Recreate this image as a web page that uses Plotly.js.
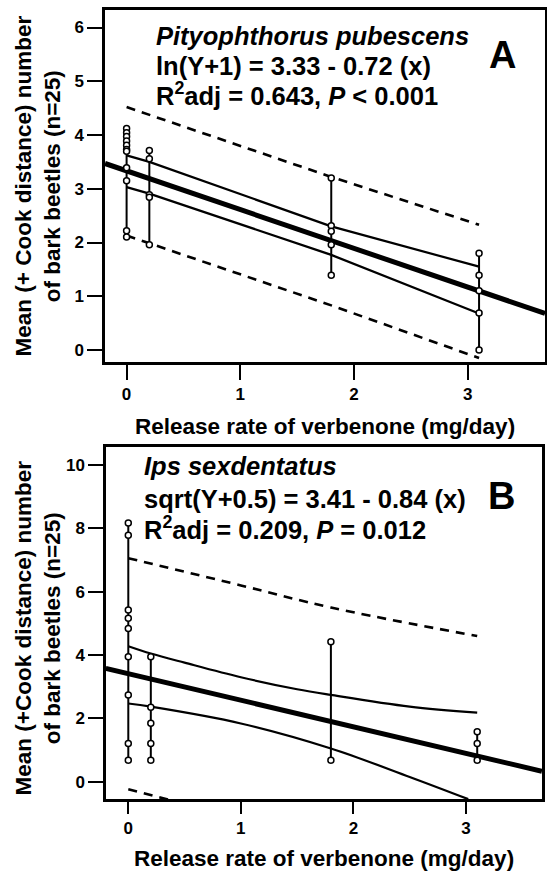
<!DOCTYPE html>
<html><head><meta charset="utf-8">
<script src="https://cdn.plot.ly/plotly-3.0.1.min.js"></script>
<style>body{margin:0;background:#fff}</style>
</head><body>
<div id="chart" style="width:547px;height:872px"></div>
<script>
// ---------------- data ----------------
const releaseRates = [0, 0.2, 1.8, 3.1];           // mg/day
const xTicks = [0, 1, 2, 3];
const yTicksA = [0, 1, 2, 3, 4, 5, 6];
const yTicksB = [0, 2, 4, 6, 8, 10];

// Panel A: Pityophthorus pubescens, observed values per release rate
const pityAt0   = [4.12, 4.04, 3.97, 3.89, 3.81, 3.73, 3.70, 3.39, 3.15, 2.22, 2.10];
const pityAt02  = [3.71, 3.56, 2.89, 2.84, 1.96];
const pityAt18  = [3.20, 2.31, 2.21, 1.96, 1.39];
const pityAt31  = [1.80, 1.39, 1.10, 0.69, 0.00];
// Panel A: fitted line, confidence (solid) and prediction (dashed) bands
const fitXA = [-0.19, 3.68];
const fitYA = [3.47, 0.68];
const bandXA = [0, 0.2, 1.8, 3.1];
const ciUpA = [3.62, 3.50, 2.30, 1.55];
const ciLoA = [3.03, 2.91, 1.77, 0.68];
const piXA = [0, 1.8, 3.1];
const piUpA = [4.52, 3.22, 2.33];
const piLoA = [2.13, 0.83, -0.15];

// Panel B: Ips sexdentatus, observed values per release rate
const ipsAt0  = [8.17, 7.78, 5.42, 5.16, 4.84, 3.95, 2.74, 1.21, 0.68];
const ipsAt02 = [3.95, 2.35, 1.85, 1.21, 0.68];
const ipsAt18 = [4.42, 0.68];
const ipsAt31 = [1.58, 1.21, 0.68];
// Panel B: fitted line, confidence (solid) and prediction (dashed) bands
const fitXB = [-0.2, 3.675];
const fitYB = [3.58, 0.33];
const ciUpXB = [0, 0.2, 0.5, 1.0, 1.5, 1.8, 2.5, 3.1];
const ciUpB  = [4.28, 4.05, 3.76, 3.30, 2.92, 2.74, 2.37, 2.18];
const ciLoXB = [0, 0.2, 1.0, 1.8, 2.5, 3.02];
const ciLoB  = [2.47, 2.37, 1.84, 1.05, 0.15, -0.55];
const piUpXB = [0, 1.0, 1.8, 3.1];
const piUpB  = [7.06, 6.20, 5.50, 4.60];
const piLoXB = [0, 0.37];
const piLoB  = [-0.24, -0.58];

// ---------------- build ----------------
const F = 'Arial, "Liberation Sans", Helvetica, sans-serif';
function stems(rates, groups) {
  const x = [], y = [];
  groups.forEach((g, i) => { x.push(rates[i], rates[i], null); y.push(Math.min(...g), Math.max(...g), null); });
  return {x, y};
}
function points(rates, groups) {
  const x = [], y = [];
  groups.forEach((g, i) => g.forEach(v => { x.push(rates[i]); y.push(v); }));
  return {x, y};
}
function panel(xa, ya, groups, fx, fy, cux, cu, clx, cl, pux, pu, plx, pl, shape) {
  const s = stems(releaseRates, groups), p = points(releaseRates, groups);
  const base = {xaxis: xa, yaxis: ya, hoverinfo: 'skip', showlegend: false};
  return [
    Object.assign({type: 'scatter', mode: 'lines', x: pux, y: pu, line: {color: 'black', width: 2.6, dash: '9px,7px', shape: shape}}, base),
    Object.assign({type: 'scatter', mode: 'lines', x: plx, y: pl, line: {color: 'black', width: 2.6, dash: '9px,7px'}}, base),
    Object.assign({type: 'scatter', mode: 'lines', x: cux, y: cu, line: {color: 'black', width: 2.2, shape: shape}}, base),
    Object.assign({type: 'scatter', mode: 'lines', x: clx, y: cl, line: {color: 'black', width: 2.2, shape: shape}}, base),
    Object.assign({type: 'scatter', mode: 'lines', x: fx, y: fy, line: {color: 'black', width: 5}}, base),
    Object.assign({type: 'scatter', mode: 'lines', x: s.x, y: s.y, line: {color: 'black', width: 2}}, base),
    Object.assign({type: 'scatter', mode: 'markers', x: p.x, y: p.y, cliponaxis: false,
      marker: {symbol: 'circle', size: 6, color: 'white', line: {color: 'black', width: 1.5}}}, base)
  ];
}
const data = [].concat(
  panel('x', 'y', [pityAt0, pityAt02, pityAt18, pityAt31], fitXA, fitYA, bandXA, ciUpA, bandXA, ciLoA, piXA, piUpA, piXA, piLoA, 'linear'),
  panel('x2', 'y2', [ipsAt0, ipsAt02, ipsAt18, ipsAt31], fitXB, fitYB, ciUpXB, ciUpB, ciLoXB, ciLoB, piUpXB, piUpB, piLoXB, piLoB, 'spline')
);

const ax = {showline: true, mirror: true, linecolor: 'black', linewidth: 2.6, ticks: 'outside', ticklen: 15,
  tickwidth: 2, tickcolor: 'black', showgrid: false, zeroline: false,
  tickfont: {family: F, size: 17, color: 'black', weight: 'bold'}};

const txt = {family: F, size: 25.5, color: 'black', weight: 'bold'};
const ttl = {family: F, size: 22.5, color: 'black', weight: 'bold'};
function note(xr, yr, x, y, text, font, extra) {
  return Object.assign({xref: xr, yref: yr, x: x, y: y, text: text, showarrow: false, font: font,
    xanchor: 'left', yanchor: 'middle'}, extra || {});
}
const annotations = [
  note('x domain', 'y domain', 0.112, 0.926, '<i>Pityophthorus pubescens</i>', txt),
  note('x domain', 'y domain', 0.112, 0.840, 'ln(Y+1) = 3.33 - 0.72 (x)', txt),
  note('x domain', 'y domain', 0.112, 0.761, 'R<sup>2</sup>adj = 0.643, <i>P</i> &lt; 0.001', txt),
  note('x domain', 'y domain', 0.904, 0.8735, 'A', {family: F, size: 38, color: 'black', weight: 'bold'}, {xanchor: 'center'}),
  note('x2 domain', 'y2 domain', 0.083, 0.946, '<i>Ips sexdentatus</i>', txt),
  note('x2 domain', 'y2 domain', 0.083, 0.851, 'sqrt(Y+0.5) = 3.41 - 0.84 (x)', txt),
  note('x2 domain', 'y2 domain', 0.083, 0.770, 'R<sup>2</sup>adj = 0.209, <i>P</i> = 0.012', txt),
  note('x2 domain', 'y2 domain', 0.907, 0.861, 'B', {family: F, size: 38, color: 'black', weight: 'bold'}, {xanchor: 'center'}),
  note('paper', 'y domain', 0, 0.5, 'Mean (+ Cook distance) number<br>of bark beetles (n=25)', ttl, {xanchor: 'center', xshift: -67.5, textangle: -90}),
  note('paper', 'y2 domain', 0, 0.486, 'Mean (+Cook distance) number<br>of bark beetles (n=25)', ttl, {xanchor: 'center', xshift: -67.5, textangle: -90}),
  note('x domain', 'y domain', 0.5, 0, 'Release rate of verbenone (mg/day)', ttl, {xanchor: 'center', yshift: -65}),
  note('x2 domain', 'y2 domain', 0.5, 0, 'Release rate of verbenone (mg/day)', ttl, {xanchor: 'center', yshift: -59})
];

const layout = {
  width: 547, height: 872, margin: {l: 105, r: 2, t: 10, b: 73, pad: 0},
  paper_bgcolor: 'white', plot_bgcolor: 'white', showlegend: false,
  xaxis: Object.assign({}, ax, {ticklen: 15, domain: [0, 1], range: [-0.19, 3.68], tickvals: xTicks, anchor: 'y'}),
  yaxis: Object.assign({}, ax, {domain: [0.5539, 1], range: [-0.223, 6.326], tickvals: yTicksA, anchor: 'x'}),
  xaxis2: Object.assign({}, ax, {ticklen: 12, domain: [0.0023, 0.993], range: [-0.198, 3.675], tickvals: xTicks, anchor: 'y2'}),
  yaxis2: Object.assign({}, ax, {domain: [0, 0.4461], range: [-0.546, 10.57], tickvals: yTicksB, anchor: 'x2'}),
  annotations: annotations
};
Plotly.newPlot('chart', data, layout, {displayModeBar: false, staticPlot: true});
</script>
</body></html>
